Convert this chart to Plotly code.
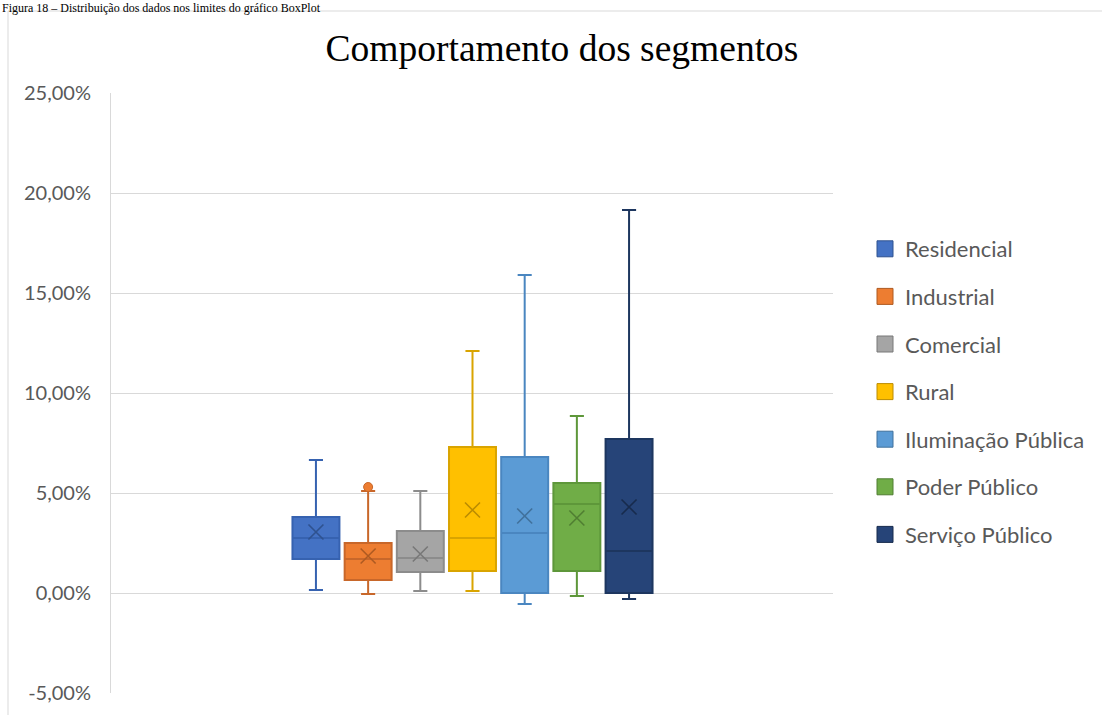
import plotly.graph_objects as go

# Segment statistics (values in %)
segmentos = ["Residencial", "Industrial", "Comercial", "Rural",
             "Iluminação Pública", "Poder Público", "Serviço Público"]
minimo = [0.15, -0.05, 0.10, 0.10, -0.55, -0.15, -0.30]
q1 = [1.70, 0.65, 1.05, 1.10, 0.00, 1.10, 0.00]
mediana = [2.75, 1.70, 1.75, 2.75, 3.00, 4.45, 2.10]
q3 = [3.80, 2.50, 3.10, 7.30, 6.80, 5.50, 7.70]
maximo = [6.65, 5.10, 5.10, 12.10, 15.90, 8.85, 19.15]
media = [3.05, 1.85, 1.95, 4.15, 3.85, 3.75, 4.30]

# Outliers (segment index, value %)
outlier_idx = [1]
outlier_val = [5.30]

y_ticks = [-5, 0, 5, 10, 15, 20, 25]
y_labels = [f"{v:.2f}".replace(".", ",") + "%" for v in y_ticks]

fill = ["#4472C4", "#ED7D31", "#A5A5A5", "#FFC000", "#5B9BD5", "#70AD47", "#264478"]
edge = ["#3662B0", "#C8672A", "#8C8C8C", "#D9A400", "#4A86C0", "#5E973A", "#1D365F"]
mark = ["#2F528F", "#AE5A21", "#787878", "#BC8C00", "#41719C", "#507E32", "#172B4D"]

W, H = 1102, 715
L, R, T, B = 111, 833, 93, 693


def px_x(p):
    return (p - L) / (R - L)


def px_y(p):
    return (B - p) / (B - T)


fig = go.Figure()

for i, nome in enumerate(segmentos):
    fig.add_trace(go.Box(
        name=nome, legendgroup=nome,
        x=[i], q1=[q1[i]], median=[mediana[i]], q3=[q3[i]],
        lowerfence=[minimo[i]], upperfence=[maximo[i]],
        width=0.9, whiskerwidth=0.3,
        fillcolor=fill[i], line=dict(color=edge[i], width=2),
        boxpoints=False, showlegend=False, hoverinfo="skip",
    ))
    # legend entry drawn as a filled square
    fig.add_trace(go.Scatter(
        name=nome, legendgroup=nome, x=[None], y=[None], mode="markers",
        marker=dict(symbol="square", size=20, color=fill[i],
                    line=dict(color=mark[i], width=1)),
        showlegend=True, hoverinfo="skip",
    ))

# mean markers
fig.add_trace(go.Scatter(
    x=list(range(len(segmentos))), y=media, mode="markers",
    marker=dict(symbol="x-thin", size=15, color=mark,
                line=dict(color=mark, width=1.6)),
    showlegend=False, hoverinfo="skip",
))

# outliers
fig.add_trace(go.Scatter(
    x=outlier_idx, y=outlier_val, mode="markers",
    marker=dict(symbol="circle", size=9, color=[fill[i] for i in outlier_idx],
                line=dict(color=[edge[i] for i in outlier_idx], width=1)),
    showlegend=False, hoverinfo="skip",
))

spacing = 52.2
x0 = -(316 - L) / spacing
x1 = 6 + (R - 629) / spacing

fig.update_layout(
    width=W, height=H,
    margin=dict(l=L, r=W - R, t=T, b=H - B),
    paper_bgcolor="white", plot_bgcolor="white",
    font=dict(family="Lato", color="#595959"),
    title=dict(text="Comportamento dos segmentos",
               font=dict(family="Liberation Serif", size=37.5, color="black"),
               x=562 / W, xanchor="center", y=1 - 48 / H, yanchor="middle"),
    xaxis=dict(range=[x0, x1], showticklabels=False, showgrid=False,
               zeroline=False, ticks=""),
    yaxis=dict(range=[-5, 25], tickvals=y_ticks, ticktext=y_labels,
               showgrid=True, gridcolor="#D9D9D9", gridwidth=1.3,
               zeroline=False, showline=True, linecolor="#D9D9D9", linewidth=1,
               tickfont=dict(family="Lato", size=20, color="#595959"),
               ticks="", ticklabelstandoff=15),
    legend=dict(x=px_x(865), xanchor="left", y=px_y(228), yanchor="top",
                font=dict(family="Lato", size=22, color="#595959"),
                tracegroupgap=16, bgcolor="rgba(0,0,0,0)"),
    showlegend=True,
)

# chart-area border
fig.add_shape(type="line", xref="paper", yref="paper",
              x0=px_x(8), x1=px_x(8), y0=px_y(11), y1=px_y(H + 5),
              line=dict(color="#D9D9D9", width=1))
fig.add_shape(type="line", xref="paper", yref="paper",
              x0=px_x(8), x1=px_x(W + 5), y0=px_y(11), y1=px_y(11),
              line=dict(color="#D9D9D9", width=1))

# figure caption
fig.add_annotation(text="Figura 18 – Distribuição dos dados nos limites do gráfico BoxPlot",
                   xref="paper", yref="paper", x=px_x(0), y=px_y(-1),
                   xanchor="left", yanchor="top", showarrow=False,
                   font=dict(family="Liberation Serif", size=12, color="black"))

fig.write_html("out.html")
